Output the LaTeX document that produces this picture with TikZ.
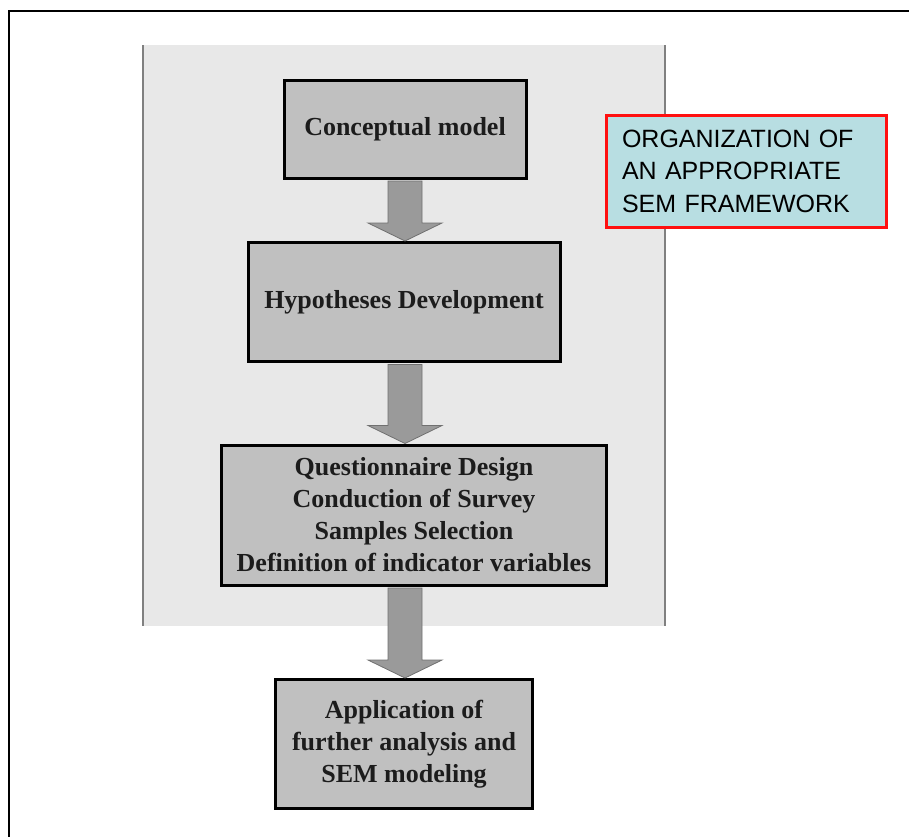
\documentclass[tikz,border=0pt]{standalone}
\usepackage{fontspec}
\setmainfont{Liberation Serif}
\newfontfamily\sansf{Liberation Sans}
\usetikzlibrary{calc}
\definecolor{panelgray}{HTML}{E8E8E8}
\definecolor{panelline}{HTML}{808080}
\definecolor{boxgray}{HTML}{C0C0C0}
\definecolor{arrowgray}{HTML}{9A9A9A}
\definecolor{arrowline}{HTML}{707070}
\definecolor{notefill}{HTML}{B8DEE2}
\definecolor{notered}{HTML}{FF1010}
\definecolor{inktext}{HTML}{1C1C1C}
\tikzset{
  x=1pt, y=-1pt,
  stepbox/.style={draw=black, line width=3pt, fill=boxgray, align=center,
    text=inktext, font=\bfseries\fontsize{26}{32}\selectfont, inner sep=0pt},
  notebox/.style={draw=notered, line width=3pt, fill=notefill, align=left,
    text=black, font=\sansf\fontsize{25}{32.5}\selectfont,
    inner xsep=16pt, inner ysep=0pt, text width=248pt,
    minimum width=280pt, minimum height=112pt},
  blockarrow/.style={fill=arrowgray, draw=arrowline, line width=0.8pt, line join=miter},
}
\begin{document}
\begin{tikzpicture}
\useasboundingbox (0,0) rectangle (909,836);
% outer frame
\draw[line width=2.5pt, line join=miter] (9,840) -- (9,11) -- (915,11);
% shaded panel
\fill[panelgray] (143,45) rectangle (665,626);
\draw[panelline, line width=1.2pt] (143,45) -- (143,626);
\draw[panelline, line width=1.2pt] (665,45) -- (665,626);
% steps
\node[stepbox, minimum width=242pt, minimum height=98pt] (b1) at (405,129) {Conceptual model};
\node[stepbox, minimum width=312pt, minimum height=119pt] (b2) at (404,302) {Hypotheses Development};
\node[stepbox, minimum width=385pt, minimum height=140pt] (b3) at (414,515)
  {Questionnaire Design\\Conduction of Survey\\Samples Selection\\Definition of indicator variables};
\node[stepbox, minimum width=257pt, minimum height=129pt] (b4) at (404,744)
  {Application of\\further analysis and\\SEM modeling};
% note
\node[notebox] (note) at (746,171) {ORGANIZATION OF\\AN APPROPRIATE\\SEM FRAMEWORK};
% block arrows
\foreach \s/\t in {b1/b2, b2/b3, b3/b4}{
  \coordinate (top) at (b1.south |- \s.south);
  \coordinate (tip) at (b1.south |- \t.north);
  \draw[blockarrow] ($(top)+(-17,1.5)$) -- ($(tip)+(-17,-18)$) -- ($(tip)+(-37,-18)$)
    -- (tip) -- ($(tip)+(37,-18)$) -- ($(tip)+(17,-18)$) -- ($(top)+(17,1.5)$) -- cycle;
}
\end{tikzpicture}
\end{document}
